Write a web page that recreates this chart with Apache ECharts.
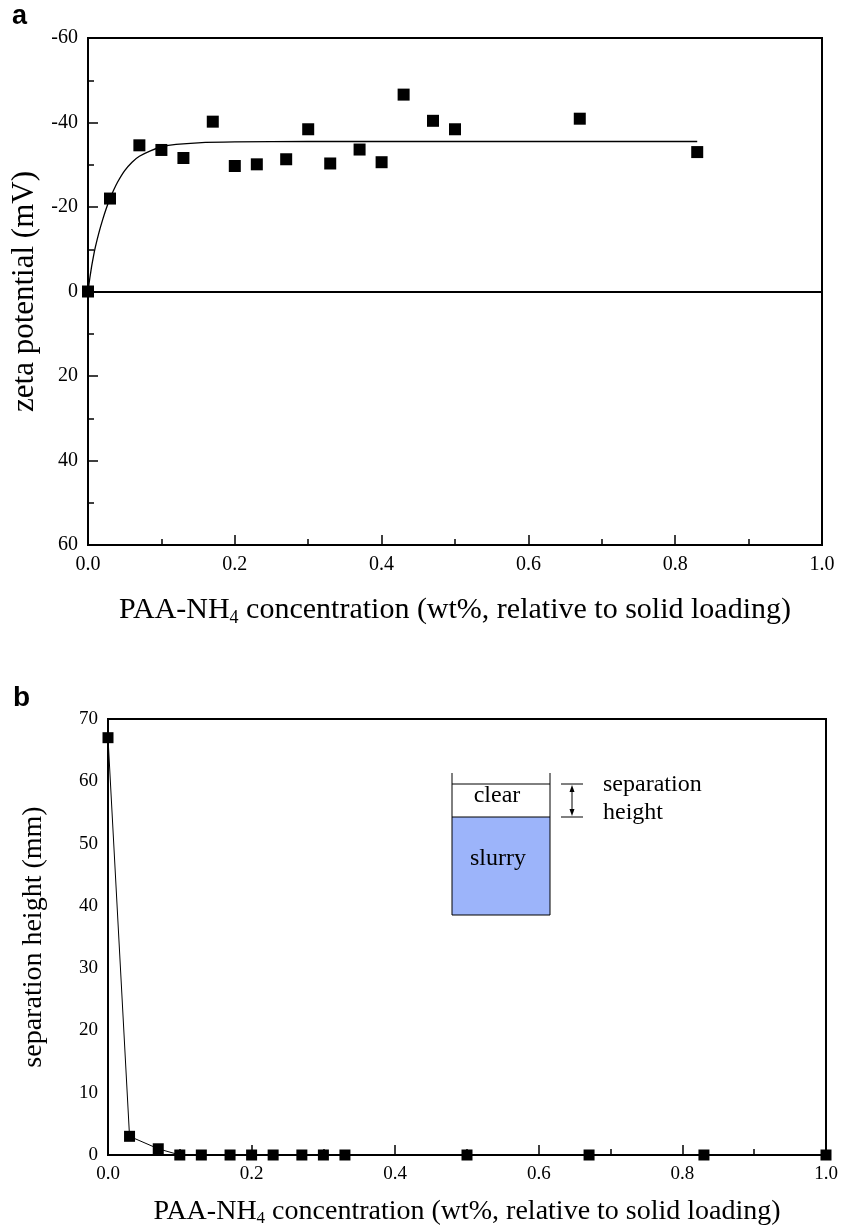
<!DOCTYPE html>
<html>
<head>
<meta charset="utf-8">
<script src="https://cdn.jsdelivr.net/npm/echarts@6/dist/echarts.min.js"></script>
<style>
html,body{margin:0;padding:0;background:#fff;}
#chart{width:843px;height:1228px;}
</style>
</head>
<body>
<div id="chart"></div>
<script>
// ---- Panel a: zeta potential ----
const zetaX = [0, 0.03, 0.07, 0.10, 0.13, 0.17, 0.20, 0.23, 0.27, 0.30, 0.33, 0.37, 0.40, 0.43, 0.47, 0.50, 0.67, 0.83];
const zetaY = [0, -22.0, -34.6, -33.5, -31.6, -40.2, -29.7, -30.1, -31.3, -38.4, -30.3, -33.6, -30.6, -46.6, -40.4, -38.4, -40.9, -33.0];
// fitted curve
const fitX = [0, 0.0025, 0.005, 0.0075, 0.01, 0.015, 0.02, 0.025, 0.03, 0.035, 0.04, 0.05, 0.06, 0.07, 0.085, 0.10, 0.12, 0.15, 0.20, 0.30, 0.83];
const fitY = [0, -3.2, -6, -8.4, -10.5, -14, -17, -19.7, -22, -24, -25.8, -28.6, -30.6, -32, -33.3, -34.2, -34.8, -35.2, -35.4, -35.5, -35.5];
const zetaTicks = [-60, -40, -20, 0, 20, 40, 60];

// ---- Panel b: separation height ----
const sepX = [0, 0.03, 0.07, 0.10, 0.13, 0.17, 0.20, 0.23, 0.27, 0.30, 0.33, 0.50, 0.67, 0.83, 1.00];
const sepY = [67, 3, 1, 0, 0, 0, 0, 0, 0, 0, 0, 0, 0, 0, 0];
const sepTicks = [0, 10, 20, 30, 40, 50, 60, 70];
const xTicks = [0.0, 0.2, 0.4, 0.6, 0.8, 1.0];

const SERIF = 'Liberation Serif';
const SANS = 'Liberation Sans';
const xName = 'PAA-NH{s|4} concentration (wt%, relative to solid loading)';

function pairs(xs, ys) { return xs.map((x, i) => [x, ys[i]]); }

const chart = echarts.init(document.getElementById('chart'), null, {renderer: 'canvas'});

function xAxisCfg(gridIndex, fontSize, nameSize, nameGap) {
  return {
    type: 'value', gridIndex: gridIndex,
    min: xTicks[0], max: xTicks[xTicks.length - 1], interval: 0.2,
    name: xName, nameLocation: 'middle', nameGap: nameGap,
    nameTextStyle: {
      fontFamily: SERIF, fontSize: nameSize, color: '#000',
      rich: { s: { fontFamily: SERIF, fontSize: Math.round(nameSize * 0.6), color: '#000', padding: [Math.round(nameSize * 0.5), 0, 0, 0] } }
    },
    axisLine: { show: true, onZero: false, lineStyle: { color: '#000', width: 2 } },
    axisTick: { show: true, inside: true, length: 10, lineStyle: { color: '#000', width: 1.5 } },
    minorTick: { show: true, splitNumber: 2, length: 6, lineStyle: { color: '#000', width: 1.5 } },
    splitLine: { show: false },
    axisLabel: { fontFamily: SERIF, fontSize: fontSize, color: '#000', margin: 10,
      formatter: v => v.toFixed(1) }
  };
}

const option = {
  backgroundColor: '#fff',
  animation: false,
  grid: [
    { left: 88, right: 21, top: 38, height: 507, show: true, borderColor: '#000', borderWidth: 2, backgroundColor: 'transparent' },
    { left: 108, right: 17, top: 719, height: 436, show: true, borderColor: '#000', borderWidth: 2, backgroundColor: 'transparent' }
  ],
  xAxis: [
    xAxisCfg(0, 20, 30, 49),
    xAxisCfg(1, 19, 28, 41)
  ],
  yAxis: [
    {
      type: 'value', gridIndex: 0, inverse: true,
      min: zetaTicks[0], max: zetaTicks[zetaTicks.length - 1], interval: 20,
      name: 'zeta potential (mV)', nameLocation: 'middle', nameGap: 34,
      nameTextStyle: { fontFamily: SERIF, fontSize: 31, color: '#000' },
      axisLine: { show: true, onZero: false, lineStyle: { color: '#000', width: 2 } },
      axisTick: { show: true, inside: true, length: 10, lineStyle: { color: '#000', width: 1.5 } },
      minorTick: { show: true, splitNumber: 2, length: 6, lineStyle: { color: '#000', width: 1.5 } },
      splitLine: { show: false },
      axisLabel: { fontFamily: SERIF, fontSize: 20, color: '#000', margin: 10 }
    },
    {
      type: 'value', gridIndex: 1,
      min: sepTicks[0], max: sepTicks[sepTicks.length - 1], interval: 10,
      name: 'separation height (mm)', nameLocation: 'middle', nameGap: 60,
      nameTextStyle: { fontFamily: SERIF, fontSize: 28, color: '#000' },
      axisLine: { show: true, onZero: false, lineStyle: { color: '#000', width: 2 } },
      axisTick: { show: false },
      splitLine: { show: false },
      axisLabel: { fontFamily: SERIF, fontSize: 19, color: '#000', margin: 10 }
    }
  ],
  series: [
    {
      type: 'line', xAxisIndex: 0, yAxisIndex: 0,
      data: pairs(fitX, fitY), smooth: 0.2,
      showSymbol: false, symbol: 'none',
      lineStyle: { color: '#000', width: 1.3 }, z: 2,
      markLine: {
        silent: true, symbol: ['none', 'none'], label: { show: false },
        lineStyle: { color: '#000', width: 2, type: 'solid' },
        data: [{ yAxis: 0 }]
      }
    },
    {
      type: 'scatter', xAxisIndex: 0, yAxisIndex: 0,
      data: pairs(zetaX, zetaY), symbol: 'rect', symbolSize: 12,
      itemStyle: { color: '#000', opacity: 1 }, z: 3
    },
    {
      type: 'line', xAxisIndex: 1, yAxisIndex: 1,
      data: pairs(sepX, sepY), symbol: 'rect', symbolSize: 11, showSymbol: true,
      lineStyle: { color: '#000', width: 1 }, itemStyle: { color: '#000', opacity: 1 }, z: 3,
      clip: false
    }
  ],
  graphic: [
    { type: 'text', left: 12, top: 3, style: { text: 'a', fontFamily: SANS, fontWeight: 'bold', fontSize: 27, fill: '#000' } },
    { type: 'text', left: 13, top: 684, style: { text: 'b', fontFamily: SANS, fontWeight: 'bold', fontSize: 28, fill: '#000' } },
    // inset: settling cylinder diagram
    { type: 'rect', shape: { x: 452, y: 817, width: 98, height: 98 }, style: { fill: '#9cb4fa', stroke: '#000', lineWidth: 1 } },
    { type: 'line', shape: { x1: 452, y1: 773, x2: 452, y2: 817 }, style: { stroke: '#000', lineWidth: 1 } },
    { type: 'line', shape: { x1: 550, y1: 773, x2: 550, y2: 817 }, style: { stroke: '#000', lineWidth: 1 } },
    { type: 'line', shape: { x1: 452, y1: 784, x2: 550, y2: 784 }, style: { stroke: '#000', lineWidth: 1 } },
    { type: 'line', shape: { x1: 561, y1: 784, x2: 583, y2: 784 }, style: { stroke: '#000', lineWidth: 1 } },
    { type: 'line', shape: { x1: 561, y1: 817, x2: 583, y2: 817 }, style: { stroke: '#000', lineWidth: 1 } },
    { type: 'line', shape: { x1: 572, y1: 789, x2: 572, y2: 812 }, style: { stroke: '#000', lineWidth: 1 } },
    { type: 'polygon', shape: { points: [[572, 785], [569.5, 792], [574.5, 792]] }, style: { fill: '#000' } },
    { type: 'polygon', shape: { points: [[572, 816], [569.5, 809], [574.5, 809]] }, style: { fill: '#000' } },
    { type: 'text', x: 497, y: 796, style: { text: 'clear', fontFamily: SERIF, fontSize: 24, fill: '#000', align: 'center', verticalAlign: 'middle' } },
    { type: 'text', x: 498, y: 859, style: { text: 'slurry', fontFamily: SERIF, fontSize: 24, fill: '#000', align: 'center', verticalAlign: 'middle' } },
    { type: 'text', x: 603, y: 785, style: { text: 'separation', fontFamily: SERIF, fontSize: 24, fill: '#000', align: 'left', verticalAlign: 'middle' } },
    { type: 'text', x: 603, y: 813, style: { text: 'height', fontFamily: SERIF, fontSize: 24, fill: '#000', align: 'left', verticalAlign: 'middle' } }
  ]
};
chart.setOption(option);
</script>
</body>
</html>
